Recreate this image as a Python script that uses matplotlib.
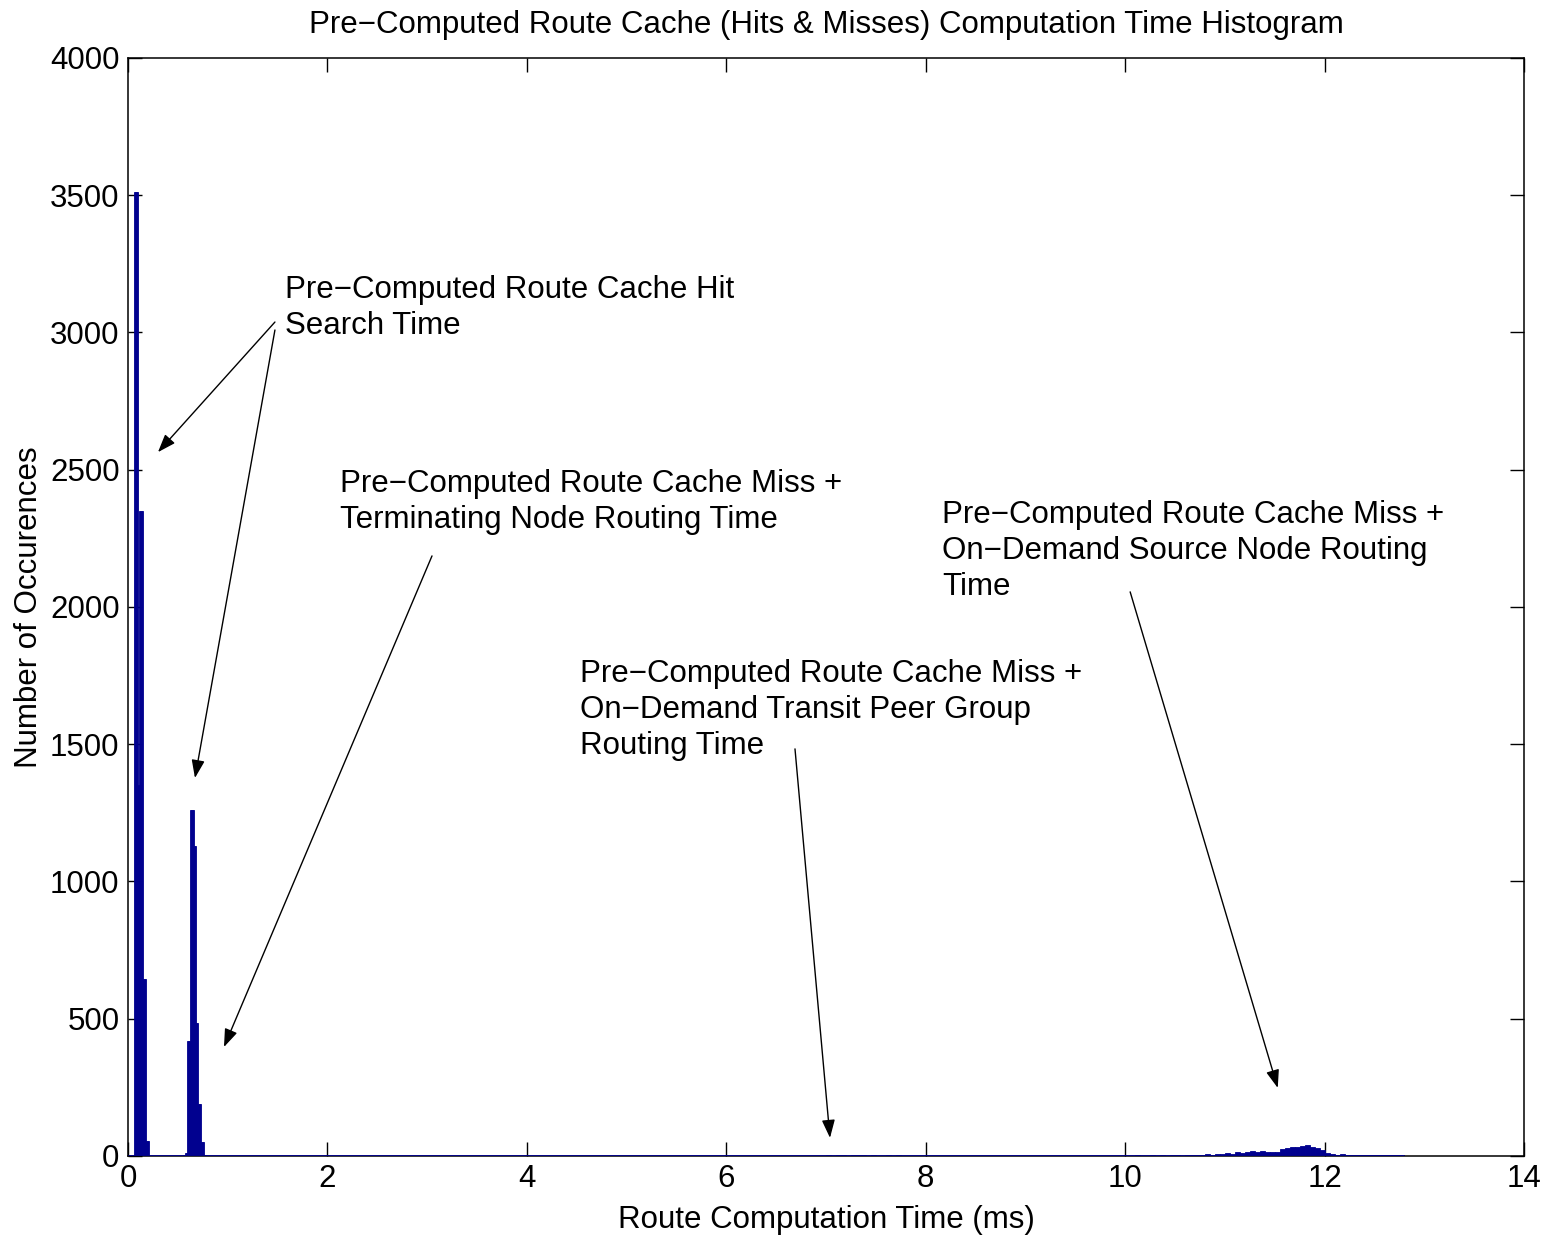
import numpy as np
import matplotlib
matplotlib.use('Agg')
import matplotlib.pyplot as plt

plt.rcParams['font.family'] = ['Liberation Sans', 'DejaVu Sans']

# cache hit cluster (0.01 ms bins)
hit_start, hit_width = 0.06, 0.01
hit_counts = [3510, 3510, 3510, 3510, 1350, 2350, 2350, 2350, 2350,
              645, 645, 645, 55, 55, 55]

# cache miss + terminating node routing (0.01 ms bins)
term_start, term_width = 0.55, 0.01
term_counts = [3, 5, 10, 10, 420, 420, 420, 1260, 1260, 1260, 1260,
               1130, 1130, 485, 485, 190, 190, 190, 50, 50, 50, 5, 3]

# cache miss + transit peer group routing (0.05 ms bins)
transit_start, transit_width = 6.90, 0.05
transit_counts = [1, 0, 2, 1, 4, 2, 1, 3, 4, 2, 1, 2, 1, 1, 2, 1, 3, 1]

# cache miss + source node routing (0.05 ms bins)
source_start, source_width = 10.00, 0.05
source_counts = [1, 0, 2, 1, 0, 2, 1, 2, 1, 3, 2, 1, 3, 2, 4, 3,
                 6, 5, 7, 6, 11, 9, 13, 12, 16, 19, 15, 18, 14, 13, 16, 27,
                 30, 33, 31, 36, 41, 34, 30, 22, 10, 7, 5, 6, 4, 5,
                 4, 3, 5, 4, 3, 5, 4, 3, 5, 2]

title = 'Pre\u2212Computed Route Cache (Hits & Misses) Computation Time Histogram'
xlabel = 'Route Computation Time (ms)'
ylabel = 'Number of Occurences'

notes = [
    ('Pre\u2212Computed Route Cache Hit\nSearch Time', (1.575, 3210)),
    ('Pre\u2212Computed Route Cache Miss +\nTerminating Node Routing Time', (2.126, 2504)),
    ('Pre\u2212Computed Route Cache Miss +\nOn\u2212Demand Transit Peer Group\nRouting Time', (4.533, 1812)),
    ('Pre\u2212Computed Route Cache Miss +\nOn\u2212Demand Source Node Routing\nTime', (8.164, 2391)),
]
# (tail, head) of each arrow
arrows = [
    ((1.474, 3038), (0.301, 2564)),
    ((1.474, 3009), (0.672, 1377)),
    ((3.049, 2186), (0.963, 397)),
    ((6.689, 1483), (7.04, 66)),
    ((10.05, 2055), (11.53, 248)),
]

BLUE = '#00008F'
FS = 22.5

fig = plt.figure(figsize=(15.49, 12.41), dpi=100)
ax = fig.add_axes([0.0826, 0.0685, 0.9013, 0.8848])

clusters = [(hit_start, hit_width, hit_counts),
            (term_start, term_width, term_counts),
            (transit_start, transit_width, transit_counts),
            (source_start, source_width, source_counts)]
for start, width, counts in clusters:
    lefts = start + width * np.arange(len(counts))
    ax.bar(lefts, counts, width=width, align='edge', color=BLUE,
           edgecolor=BLUE, linewidth=0.6, zorder=2)

end = source_start + source_width * len(source_counts)
ax.hlines(0, 0, end, color=BLUE, linewidth=2, zorder=3)

for txt, (x, y) in notes:
    ax.text(x, y, txt, fontsize=FS, ha='left', va='top', linespacing=1.27)
for tail, head in arrows:
    ax.annotate('', xy=head, xytext=tail,
                arrowprops=dict(arrowstyle='-|>,head_length=1.1,head_width=0.4',
                                color='black', lw=1.0, shrinkA=0, shrinkB=0))

ax.set_xlim(0, 14)
ax.set_ylim(0, 4000)
ax.set_xticks(np.arange(0, 15, 2))
ax.set_yticks(np.arange(0, 4001, 500))
ax.tick_params(direction='in', length=10, width=1, labelsize=FS,
               top=True, right=True, pad=6)
for s in ax.spines.values():
    s.set_linewidth(1.1)

ax.set_title(title, fontsize=FS, pad=18)
ax.set_xlabel(xlabel, fontsize=FS, labelpad=8)
ax.set_ylabel(ylabel, fontsize=FS, labelpad=4)

fig.savefig('out.png', dpi=100)
